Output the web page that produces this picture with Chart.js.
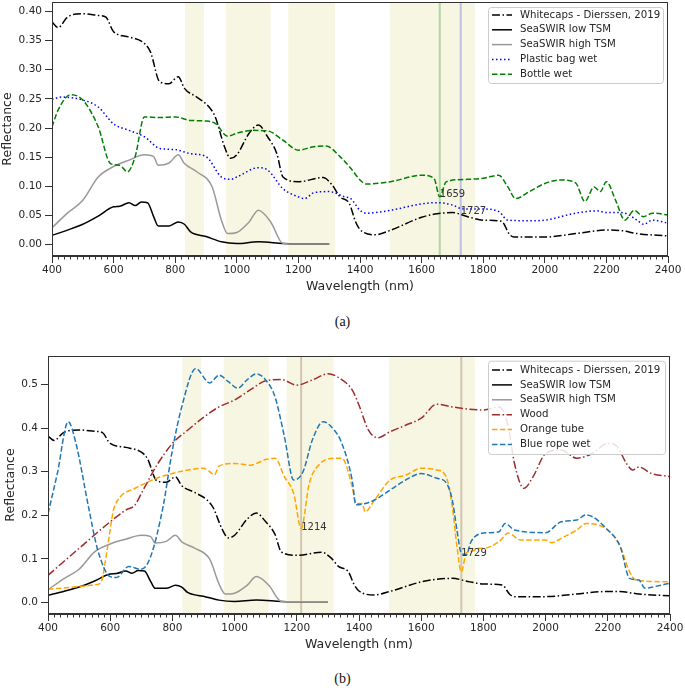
<!DOCTYPE html>
<html lang="en">
<head>
<meta charset="UTF-8">
<title>Reflectance spectra</title>
<script src="https://cdn.jsdelivr.net/npm/chart.js@4"></script>
<style>
  body { margin: 0; background: #fff; width: 685px; height: 688px; position: relative; overflow: hidden; }
  canvas { position: absolute; left: 0; }
  .caption { position: absolute; left: 0; width: 685px; text-align: center; line-height: 16px;
             font-family: "Liberation Serif", "DejaVu Serif", serif; font-size: 14px; color: #111; }
</style>
</head>
<body>
<canvas id="panelA" width="685" height="300" style="top:0"></canvas>
<div class="caption" style="top:314px">(a)</div>
<canvas id="panelB" width="685" height="320" style="top:340px"></canvas>
<div class="caption" style="top:671px">(b)</div>

<script>
// Shared spectra (both panels)
const whiteNm  = [400, 420, 450, 500, 550, 575, 600, 650, 700, 720, 750, 780, 810, 830, 870, 910, 930, 960, 980, 1000, 1040, 1070, 1100, 1130, 1150, 1200, 1280, 1310, 1335, 1365, 1385, 1400, 1450, 1500, 1600, 1650, 1700, 1750, 1800, 1860, 1885, 1900, 2000, 2100, 2200, 2250, 2300, 2400];
const whiteVal = [0.382, 0.372, 0.390, 0.396, 0.393, 0.390, 0.365, 0.356, 0.345, 0.330, 0.279, 0.276, 0.288, 0.268, 0.253, 0.236, 0.219, 0.168, 0.148, 0.154, 0.191, 0.205, 0.185, 0.156, 0.116, 0.108, 0.115, 0.102, 0.082, 0.071, 0.040, 0.026, 0.017, 0.025, 0.047, 0.053, 0.055, 0.048, 0.042, 0.040, 0.018, 0.013, 0.013, 0.019, 0.025, 0.024, 0.019, 0.015];

const lowNm  = [400, 450, 500, 550, 600, 620, 650, 670, 690, 710, 730, 745, 780, 810, 830, 850, 900, 950, 1000, 1070, 1150, 1200, 1300];
const lowVal = [0.016, 0.025, 0.035, 0.049, 0.065, 0.066, 0.072, 0.067, 0.073, 0.072, 0.048, 0.032, 0.032, 0.039, 0.035, 0.022, 0.014, 0.005, 0.002, 0.005, 0.002, 0.001, 0.001];

const highNm  = [400, 450, 500, 550, 600, 650, 700, 730, 745, 780, 810, 830, 870, 920, 950, 970, 1000, 1040, 1070, 1110, 1150, 1200, 1300];
const highVal = [0.029, 0.054, 0.076, 0.116, 0.134, 0.145, 0.154, 0.151, 0.136, 0.140, 0.154, 0.139, 0.125, 0.099, 0.042, 0.019, 0.021, 0.039, 0.059, 0.039, 0.002, 0.001, 0.001];

// Panel (a)
const bagNm  = [400, 430, 500, 550, 600, 650, 700, 750, 800, 850, 900, 950, 980, 1000, 1070, 1100, 1150, 1200, 1220, 1250, 1300, 1350, 1370, 1400, 1420, 1500, 1600, 1650, 1700, 1727, 1750, 1800, 1850, 1880, 1950, 2000, 2100, 2170, 2200, 2250, 2300, 2320, 2350, 2400];
const bagVal = [0.249, 0.253, 0.248, 0.236, 0.207, 0.196, 0.185, 0.165, 0.163, 0.156, 0.151, 0.116, 0.112, 0.116, 0.132, 0.128, 0.096, 0.082, 0.079, 0.089, 0.091, 0.082, 0.079, 0.059, 0.054, 0.059, 0.070, 0.072, 0.068, 0.062, 0.061, 0.061, 0.057, 0.042, 0.041, 0.042, 0.054, 0.058, 0.055, 0.055, 0.042, 0.035, 0.042, 0.037];

const bottleNm  = [400, 420, 460, 500, 550, 590, 620, 645, 670, 700, 750, 800, 850, 900, 930, 970, 1000, 1050, 1100, 1150, 1200, 1250, 1290, 1335, 1370, 1400, 1420, 1500, 1600, 1640, 1659, 1680, 1750, 1800, 1850, 1880, 1905, 1950, 2000, 2050, 2100, 2130, 2160, 2180, 2200, 2230, 2260, 2290, 2320, 2350, 2400];
const bottleVal = [0.202, 0.231, 0.257, 0.248, 0.202, 0.139, 0.136, 0.125, 0.151, 0.219, 0.218, 0.219, 0.213, 0.212, 0.208, 0.186, 0.191, 0.196, 0.195, 0.179, 0.162, 0.168, 0.169, 0.151, 0.131, 0.111, 0.104, 0.108, 0.119, 0.114, 0.082, 0.108, 0.112, 0.114, 0.119, 0.099, 0.079, 0.091, 0.105, 0.111, 0.106, 0.074, 0.099, 0.091, 0.108, 0.076, 0.042, 0.059, 0.048, 0.054, 0.051];

// Panel (b)
const woodNm  = [400, 500, 600, 650, 680, 700, 750, 800, 850, 900, 950, 1000, 1050, 1100, 1150, 1200, 1250, 1300, 1340, 1378, 1400, 1430, 1460, 1500, 1550, 1600, 1650, 1700, 1750, 1800, 1850, 1880, 1900, 1930, 1960, 2000, 2050, 2100, 2150, 2200, 2230, 2260, 2280, 2300, 2340, 2400];
const woodVal = [0.062, 0.124, 0.185, 0.212, 0.224, 0.250, 0.315, 0.365, 0.396, 0.425, 0.449, 0.465, 0.488, 0.509, 0.512, 0.499, 0.511, 0.525, 0.514, 0.488, 0.453, 0.396, 0.378, 0.392, 0.407, 0.423, 0.455, 0.449, 0.444, 0.442, 0.449, 0.404, 0.319, 0.262, 0.289, 0.342, 0.350, 0.331, 0.342, 0.365, 0.358, 0.319, 0.304, 0.311, 0.296, 0.289];

const tubeNm  = [400, 500, 550, 570, 590, 610, 630, 680, 750, 800, 850, 900, 920, 935, 950, 1000, 1050, 1100, 1130, 1160, 1190, 1214, 1240, 1270, 1320, 1345, 1378, 1390, 1410, 1420, 1450, 1500, 1550, 1600, 1650, 1680, 1700, 1715, 1729, 1745, 1765, 1786, 1800, 1850, 1880, 1920, 1950, 2000, 2020, 2050, 2100, 2130, 2200, 2240, 2270, 2290, 2400];
const tubeVal = [0.030, 0.036, 0.040, 0.045, 0.120, 0.210, 0.240, 0.262, 0.285, 0.296, 0.304, 0.308, 0.300, 0.293, 0.313, 0.319, 0.315, 0.328, 0.331, 0.289, 0.250, 0.170, 0.273, 0.315, 0.331, 0.331, 0.266, 0.227, 0.227, 0.208, 0.235, 0.281, 0.292, 0.308, 0.304, 0.289, 0.220, 0.128, 0.070, 0.113, 0.118, 0.124, 0.124, 0.139, 0.159, 0.143, 0.143, 0.143, 0.137, 0.147, 0.166, 0.181, 0.166, 0.128, 0.070, 0.051, 0.047];

const ropeNm  = [400, 430, 465, 490, 530, 560, 600, 620, 660, 700, 730, 770, 800, 830, 875, 920, 950, 980, 1010, 1040, 1070, 1100, 1130, 1160, 1190, 1220, 1250, 1285, 1320, 1345, 1378, 1390, 1420, 1450, 1500, 1550, 1600, 1650, 1680, 1700, 1715, 1729, 1745, 1760, 1800, 1850, 1870, 1900, 2000, 2050, 2100, 2130, 2200, 2240, 2270, 2300, 2320, 2350, 2400];
const ropeVal = [0.204, 0.296, 0.415, 0.365, 0.220, 0.120, 0.059, 0.057, 0.082, 0.076, 0.105, 0.220, 0.350, 0.449, 0.537, 0.504, 0.522, 0.507, 0.492, 0.511, 0.525, 0.511, 0.472, 0.381, 0.281, 0.300, 0.373, 0.415, 0.396, 0.365, 0.281, 0.224, 0.227, 0.235, 0.258, 0.281, 0.296, 0.285, 0.275, 0.235, 0.166, 0.113, 0.109, 0.139, 0.159, 0.162, 0.181, 0.166, 0.160, 0.185, 0.189, 0.201, 0.166, 0.128, 0.055, 0.051, 0.032, 0.036, 0.044];

// Shaded bands and x tick labels
const bands = [[832, 893], [965, 1110], [1167, 1319], [1497, 1773]];
const xTicks = [400, 600, 800, 1000, 1200, 1400, 1600, 1800, 2000, 2200, 2400];

const FONT = '"DejaVu Sans", sans-serif';
const INK = '#262626';
const DASHDOT = [8, 2.5, 1.5, 2.5];
const DASHED = [5.5, 2.4];
const DOTTED = [1.5, 2.5];

function pts(nm, vals) {
  return nm.map((w, i) => ({ x: w, y: vals[i] }));
}

function line(label, nm, vals, color, dash) {
  return {
    label: label,
    data: pts(nm, vals),
    borderColor: color,
    borderDash: dash,
    borderWidth: 1.5,
    pointRadius: 0,
    fill: false,
    cubicInterpolationMode: 'monotone'
  };
}

function commonSeries() {
  return [
    line('Whitecaps - Dierssen, 2019', whiteNm, whiteVal, '#000000', DASHDOT),
    line('SeaSWIR low TSM', lowNm, lowVal, '#000000', []),
    line('SeaSWIR high TSM', highNm, highVal, '#999999', [])
  ];
}

// Bands, marker lines, notes, frame, minor ticks and legend
const decor = {
  id: 'decor',
  beforeDatasetsDraw(chart, args, o) {
    const { ctx, chartArea: a, scales: { x } } = chart;
    ctx.save();
    ctx.beginPath();
    ctx.rect(a.left, a.top, a.width, a.height);
    ctx.clip();
    ctx.fillStyle = '#f7f6e3';
    bands.forEach(([s, e]) => {
      const x0 = x.getPixelForValue(s), x1 = x.getPixelForValue(e);
      ctx.fillRect(x0, a.top, x1 - x0, a.height);
    });
    o.marks.forEach(m => {
      const px = x.getPixelForValue(m.nm);
      ctx.strokeStyle = m.color;
      ctx.lineWidth = 2;
      ctx.beginPath();
      ctx.moveTo(px, a.top);
      ctx.lineTo(px, a.bottom);
      ctx.stroke();
    });
    ctx.restore();
  },
  afterDatasetsDraw(chart, args, o) {
    const { ctx, chartArea: a, scales: { x, y } } = chart;
    ctx.save();
    // notes
    ctx.font = '10px ' + FONT;
    ctx.fillStyle = '#333';
    ctx.textAlign = 'left';
    ctx.textBaseline = 'alphabetic';
    o.marks.forEach(m => {
      ctx.fillText(String(m.nm), x.getPixelForValue(m.nm), y.getPixelForValue(m.at));
    });
    // frame
    ctx.strokeStyle = '#333';
    ctx.lineWidth = 1;
    ctx.strokeRect(a.left + 0.5, a.top + 0.5, a.width - 1, a.height - 1);
    // minor ticks on x
    ctx.beginPath();
    for (let w = 420; w < 2400; w += 20) {
      if (w % 200 === 0) continue;
      const px = Math.round(x.getPixelForValue(w)) + 0.5;
      ctx.moveTo(px, a.bottom);
      ctx.lineTo(px, a.bottom + 3.5);
    }
    ctx.stroke();
    // legend
    const L = o.legend;
    ctx.beginPath();
    ctx.roundRect(L.left + 0.5, L.top + 0.5, L.width, L.height, 3);
    ctx.fillStyle = 'rgba(255,255,255,0.85)';
    ctx.fill();
    ctx.strokeStyle = '#cccccc';
    ctx.stroke();
    ctx.textBaseline = 'middle';
    ctx.font = '10.2px ' + FONT;
    chart.data.datasets.forEach((ds, i) => {
      const ry = L.top + L.first + i * L.step;
      ctx.beginPath();
      ctx.setLineDash(ds.borderDash || []);
      ctx.strokeStyle = ds.borderColor;
      ctx.lineWidth = 1.5;
      ctx.moveTo(L.left + 4, ry);
      ctx.lineTo(L.left + 24, ry);
      ctx.stroke();
      ctx.setLineDash([]);
      ctx.fillStyle = INK;
      ctx.fillText(ds.label, L.left + 32, ry);
    });
    ctx.restore();
  }
};

function makeChart(id, datasets, cfg) {
  datasets.forEach((d, i) => { d.order = -i; });
  return new Chart(document.getElementById(id), {
    type: 'line',
    data: { datasets: datasets },
    options: {
      responsive: false,
      animation: false,
      devicePixelRatio: 1,
      layout: { padding: cfg.padding },
      plugins: {
        legend: { display: false },
        tooltip: { enabled: false },
        decor: { marks: cfg.marks, legend: cfg.legend }
      },
      scales: {
        x: {
          type: 'linear',
          min: 400,
          max: 2400,
          afterFit: s => { s.height = cfg.xHeight; },
          afterBuildTicks: s => { s.ticks = xTicks.map(v => ({ value: v })); },
          grid: { drawOnChartArea: false, drawTicks: true, tickLength: 7, color: '#333' },
          border: { display: true, color: '#333' },
          ticks: { font: { family: FONT, size: 10.5 }, color: INK, padding: 1, maxRotation: 0, autoSkip: false,
                   callback: v => String(v) },
          title: { display: true, text: 'Wavelength (nm)', color: INK,
                   font: { family: FONT, size: 12.5 }, padding: { top: 0, bottom: cfg.xTitlePad } }
        },
        y: {
          min: cfg.yMin,
          max: cfg.yMax,
          afterFit: s => { s.width = cfg.yWidth; s.paddingTop = 0; s.paddingBottom = 0; },
          grid: { drawOnChartArea: false, drawTicks: true, tickLength: 7, color: '#333' },
          border: { display: true, color: '#333' },
          ticks: { stepSize: cfg.yStep, includeBounds: false, font: { family: FONT, size: 10.5 }, color: INK,
                   padding: 3, callback: v => v.toFixed(cfg.yDigits) },
          title: { display: true, text: 'Reflectance', color: INK,
                   font: { family: FONT, size: 12.5 }, padding: { top: cfg.yTitlePad, bottom: 0 } }
        }
      }
    },
    plugins: [decor]
  });
}

makeChart('panelA',
  commonSeries().concat([
    line('Plastic bag wet', bagNm, bagVal, '#0000ff', DOTTED),
    line('Bottle wet', bottleNm, bottleVal, '#008000', DASHED)
  ]),
  {
    padding: { top: 2, right: 17, bottom: 0, left: 0 },
    xHeight: 44, yWidth: 52, xTitlePad: 5.5, yTitlePad: 0,
    yMin: -0.0194, yMax: 0.416, yStep: 0.05, yDigits: 2,
    marks: [{ nm: 1659, at: 0.082, color: 'rgba(150,205,140,0.75)' },
            { nm: 1727, at: 0.053, color: 'rgba(170,175,225,0.75)' }],
    legend: { left: 488, top: 7, width: 175, height: 76, first: 8, step: 14.8 }
  });

makeChart('panelB',
  commonSeries().concat([
    line('Wood', woodNm, woodVal, '#a02b2b', DASHDOT),
    line('Orange tube', tubeNm, tubeVal, '#ffa500', DASHED),
    line('Blue rope wet', ropeNm, ropeVal, '#1f77b4', DASHED)
  ]),
  {
    padding: { top: 16, right: 15, bottom: 0, left: 0 },
    xHeight: 46, yWidth: 48, xTitlePad: 7.5, yTitlePad: 3,
    yMin: -0.0269, yMax: 0.566, yStep: 0.1, yDigits: 1,
    marks: [{ nm: 1214, at: 0.165, color: 'rgba(200,185,160,0.8)' },
            { nm: 1729, at: 0.106, color: 'rgba(200,185,160,0.8)' }],
    legend: { left: 488, top: 20.7, width: 177, height: 93.3, first: 9.3, step: 14.9 }
  });
</script>
</body>
</html>
